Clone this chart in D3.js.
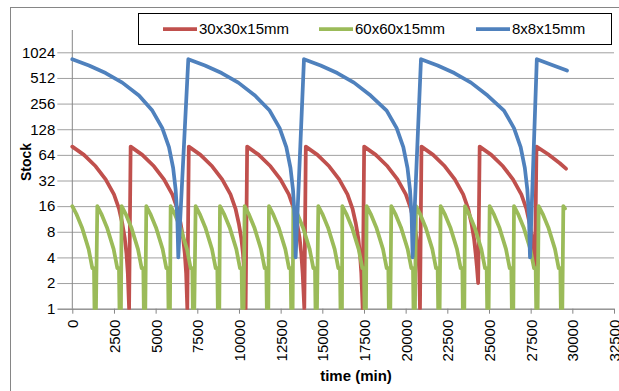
<!DOCTYPE html>
<html>
<head>
<meta charset="utf-8">
<script src="https://cdn.jsdelivr.net/npm/d3@7"></script>
<style>
  body { margin: 0; background: #fff; }
  svg { display: block; }
  text { font-family: "Liberation Sans", Arial, sans-serif; fill: #000; }
</style>
</head>
<body>
<svg id="chart" width="619" height="391"></svg>
<script>
// Stock level over time for three part sizes (log2 stock axis)
const seriesNames = ["30x30x15mm", "60x60x15mm", "8x8x15mm"];

const redTime = [
  0, 700, 1400, 2000, 2500, 2800, 3000, 3150, 3250, 3330, 3408,
  3500, 4200, 4900, 5500, 6000, 6300, 6500, 6650, 6750, 6830, 6900,
  6990, 7690, 8390, 8990, 9490, 9790, 9990, 10140, 10240, 10320, 10400,
  10490, 11190, 11890, 12490, 12990, 13290, 13490, 13640, 13740, 13820, 13920,
  14010, 14710, 15410, 16010, 16510, 16810, 17010, 17160, 17260, 17340, 17420,
  17510, 18210, 18910, 19510, 20010, 20310, 20510, 20660, 20760, 20820, 20860,
  20950, 21650, 22350, 22950, 23450, 23750, 23950, 24100, 24200, 24280, 24350,
  24440, 25140, 25840, 26440, 26940, 27240, 27440, 27590, 27690, 27760,
  27850, 28550, 29250, 29620
];
const redStock = [
  80, 64, 47, 33, 22, 15, 10, 6.7, 4.4, 2.6, 1,
  80, 64, 47, 33, 22, 15, 10, 6.7, 4.4, 2.6, 1,
  80, 64, 47, 33, 22, 15, 10, 6.7, 4.4, 2.6, 1,
  80, 64, 47, 33, 22, 15, 10, 6.7, 4.4, 2.6, 1,
  80, 64, 47, 33, 22, 15, 10, 6.7, 4.4, 2.6, 1,
  80, 64, 47, 33, 22, 15, 10, 6.7, 4.4, 2.6, 1,
  80, 64, 47, 33, 22, 15, 10, 6.7, 4.4, 3, 2,
  80, 64, 47, 33, 22, 15, 10, 6.7, 4.4, 3,
  80, 65, 51, 44
];

const greenTime = [
  0, 240, 580, 980, 1200, 1300, 1330, 1420,
  1500, 1740, 2080, 2480, 2700, 2800, 2830, 2920,
  2960, 3200, 3540, 3940, 4160, 4260, 4290, 4380,
  4440, 4680, 5020, 5420, 5640, 5740, 5770, 5860,
  5900, 6140, 6480, 6880, 7100, 7200, 7230, 7320,
  7400, 7640, 7980, 8380, 8600, 8700, 8730, 8820,
  8860, 9100, 9440, 9840, 10060, 10160, 10190, 10280,
  10340, 10580, 10920, 11320, 11540, 11640, 11670, 11760,
  11800, 12040, 12380, 12780, 13000, 13100, 13130, 13220,
  13260, 13500, 13840, 14240, 14460, 14560, 14590, 14680,
  14760, 15000, 15340, 15740, 15960, 16060, 16090, 16180,
  16200, 16440, 16780, 17180, 17400, 17500, 17530, 17620,
  17660, 17900, 18240, 18640, 18860, 18960, 18990, 19080,
  19140, 19380, 19720, 20120, 20340, 20440, 20470, 20560,
  20620, 20860, 21200, 21600, 21820, 21920, 21950, 22040,
  22100, 22340, 22680, 23080, 23300, 23400, 23430, 23520,
  23560, 23800, 24140, 24540, 24760, 24860, 24890, 24980,
  25040, 25280, 25620, 26020, 26240, 26340, 26370, 26460,
  26500, 26740, 27080, 27480, 27700, 27800, 27830, 27920,
  27980, 28220, 28560, 28960, 29180, 29280, 29310, 29400,
  29460, 29560
];
const greenStock = [
  16, 13, 9, 5, 3, 3, 1, 1,
  16, 13, 9, 5, 3, 3, 1, 1,
  16, 13, 9, 5, 3, 3, 1, 1,
  16, 13, 9, 5, 3, 3, 1, 1,
  16, 13, 9, 5, 3, 3, 1, 1,
  16, 13, 9, 5, 3, 3, 1, 1,
  16, 13, 9, 5, 3, 3, 1, 1,
  16, 13, 9, 5, 3, 3, 1, 1,
  16, 13, 9, 5, 3, 3, 1, 1,
  16, 13, 9, 5, 3, 3, 1, 1,
  16, 13, 9, 5, 3, 3, 1, 1,
  16, 13, 9, 5, 3, 3, 1, 1,
  16, 13, 9, 5, 3, 3, 1, 1,
  16, 13, 9, 5, 3, 3, 1, 1,
  16, 13, 9, 5, 3, 3, 1, 1,
  16, 13, 9, 5, 3, 3, 1, 1,
  16, 13, 9, 5, 3, 3, 1, 1,
  16, 13, 9, 5, 3, 3, 1, 1,
  16, 13, 9, 5, 3, 3, 1, 1,
  16, 13, 9, 5, 3, 3, 1, 1,
  16, 15
];

const blueTime = [
  0, 1000, 2000, 3000, 4000, 4800, 5400, 5800, 6050, 6200, 6300, 6360,
  6960, 7960, 8960, 9960, 10960, 11840, 12440, 12840, 13090, 13240, 13340, 13400,
  13900, 14900, 15900, 16900, 17900, 18860, 19460, 19860, 20110, 20260, 20360, 20420,
  20920, 21920, 22920, 23920, 24920, 25900, 26500, 26900, 27150, 27300, 27400, 27460,
  27870, 28870, 29680
];
const blueStock = [
  850, 717, 584, 451, 318, 212, 132, 79, 45, 25, 12, 4,
  850, 717, 584, 451, 318, 212, 132, 79, 45, 25, 12, 4,
  850, 717, 584, 451, 318, 212, 132, 79, 45, 25, 12, 4,
  850, 717, 584, 451, 318, 212, 132, 79, 45, 25, 12, 4,
  850, 717, 625
];

const xTicks = [0, 2500, 5000, 7500, 10000, 12500, 15000, 17500, 20000,
                22500, 25000, 27500, 30000, 32500];
const yTicks = [1, 2, 4, 8, 16, 32, 64, 128, 256, 512, 1024];

// ---- drawing ----
const svg = d3.select("#chart");
const W = 619, H = 391;
const plot = { left: 57.3, right: 614, top: 30, bottom: 308.7 };

svg.append("rect").attr("width", W).attr("height", H).attr("fill", "#fff");
// chart frame
svg.append("rect")
  .attr("x", 10.5).attr("y", 7.5)
  .attr("width", 700).attr("height", 500)
  .attr("fill", "none").attr("stroke", "#868686").attr("stroke-width", 1);

const x = d3.scaleLinear().domain([-900, 32500]).range([plot.left, plot.right]);
const y = d3.scaleLog().base(2).domain([1, 1024]).range([plot.bottom, 52.3]);

// horizontal gridlines + y tick labels
const yAxis = d3.axisLeft(y)
  .tickValues(yTicks)
  .tickFormat(d3.format("d"))
  .tickSize(-(plot.right - plot.left))
  .tickPadding(2);
const gy = svg.append("g")
  .attr("transform", `translate(${plot.left},0)`)
  .call(yAxis);
gy.select(".domain").remove();
gy.selectAll(".tick line").attr("stroke", "#a0a0a0").attr("stroke-width", 1);
gy.selectAll(".tick text")
  .style("font-size", "15px")
  .attr("fill", "#000");

// x axis
const xAxis = d3.axisBottom(x)
  .tickValues(xTicks)
  .tickFormat(d3.format("d"))
  .tickSize(5)
  .tickSizeOuter(0);
const gx = svg.append("g")
  .attr("transform", `translate(0,${plot.bottom})`)
  .call(xAxis);
gx.select(".domain").attr("stroke", "#868686");
gx.selectAll(".tick line").attr("stroke", "#868686");
gx.selectAll(".tick text")
  .style("font-size", "15px")
  .attr("fill", "#000")
  .attr("text-anchor", "end")
  .attr("transform", "rotate(-90)")
  .attr("x", -11)
  .attr("y", 0)
  .attr("dy", "0.36em");

// vertical axis line at time 0
svg.append("line")
  .attr("x1", x(0)).attr("x2", x(0))
  .attr("y1", plot.top).attr("y2", plot.bottom)
  .attr("stroke", "#868686").attr("stroke-width", 1);

// axis titles
svg.append("text")
  .attr("transform", "translate(31,162) rotate(-90)")
  .attr("text-anchor", "middle")
  .style("font-size", "14px").style("font-weight", "bold")
  .text("Stock");
svg.append("text")
  .attr("x", 356).attr("y", 381)
  .attr("text-anchor", "middle")
  .style("font-size", "15px").style("font-weight", "bold")
  .text("time (min)");

// series lines
svg.append("clipPath").attr("id", "plotClip")
  .append("rect")
  .attr("x", plot.left).attr("y", 0)
  .attr("width", plot.right - plot.left).attr("height", plot.bottom + 1);

const series = [
  { name: seriesNames[0], color: "#C0504D", data: d3.zip(redTime, redStock) },
  { name: seriesNames[1], color: "#9BBB59", data: d3.zip(greenTime, greenStock) },
  { name: seriesNames[2], color: "#4F81BD", data: d3.zip(blueTime, blueStock) }
];

const line = d3.line().x(d => x(d[0])).y(d => y(d[1]));
const gLines = svg.append("g").attr("clip-path", "url(#plotClip)");
series.forEach(s => {
  gLines.append("path")
    .datum(s.data)
    .attr("d", line)
    .attr("fill", "none")
    .attr("stroke", s.color)
    .attr("stroke-width", 3.75)
    .attr("stroke-linejoin", "round")
    .attr("stroke-linecap", "round");
});

// legend
const legend = svg.append("g");
legend.append("rect")
  .attr("x", 138.5).attr("y", 13.5)
  .attr("width", 473).attr("height", 31)
  .attr("fill", "#fff").attr("stroke", "#000").attr("stroke-width", 1);
const legendX = [163, 319, 476];
series.forEach((s, i) => {
  legend.append("line")
    .attr("x1", legendX[i]).attr("x2", legendX[i] + 34)
    .attr("y1", 29).attr("y2", 29)
    .attr("stroke", s.color).attr("stroke-width", 3.75);
  legend.append("text")
    .attr("x", legendX[i] + 36).attr("y", 34.3)
    .style("font-size", "15px")
    .text(s.name);
});
</script>
</body>
</html>
